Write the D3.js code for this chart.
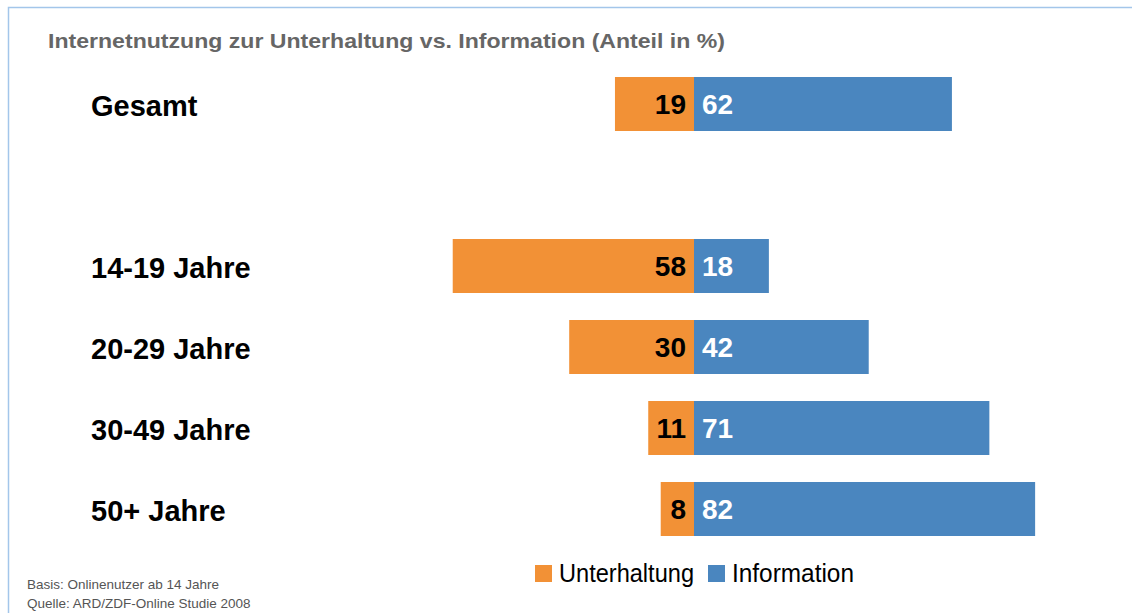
<!DOCTYPE html>
<html>
<head>
<meta charset="utf-8">
<script src="https://cdn.jsdelivr.net/npm/d3@7"></script>
<style>
  body { margin: 0; background: #fff; }
  svg { display: block; font-family: "Liberation Sans", Arial, sans-serif; }
</style>
</head>
<body>
<div id="chart"></div>
<script>
// data
var categories = ["Gesamt", "14-19 Jahre", "20-29 Jahre", "30-49 Jahre", "50+ Jahre"];
var unterhaltung = [19, 58, 30, 11, 8];
var information = [62, 18, 42, 71, 82];
var seriesNames = ["Unterhaltung", "Information"];
var footnotes = ["Basis: Onlinenutzer ab 14 Jahre", "Quelle: ARD/ZDF-Online Studie 2008"];

var W = 1132, H = 613;
var colors = {Unterhaltung: "#f29136", Information: "#4a86bf"};

var svg = d3.select("#chart").append("svg")
    .attr("width", W)
    .attr("height", H);

// frame lines (top + left only are visible)
svg.append("path")
    .attr("d", "M8.5," + H + "V7.5H" + W)
    .attr("fill", "none")
    .attr("stroke", "#a3c6ea")
    .attr("stroke-width", 1.5);

svg.append("text")
    .attr("x", 48)
    .attr("y", 48)
    .attr("fill", "#666")
    .attr("textLength", 677)
    .attr("lengthAdjust", "spacingAndGlyphs")
    .style("font-size", "21px")
    .style("font-weight", "bold")
    .text("Internetnutzung zur Unterhaltung vs. Information (Anteil in %)");

// band scale with an empty slot between Gesamt and the age groups
var slots = [categories[0], "_gap"].concat(categories.slice(1));
var y = d3.scaleBand()
    .domain(slots)
    .range([63.5, 549.5])
    .paddingInner(1 / 3)
    .paddingOuter(1 / 6);

var x = d3.scaleLinear()
    .domain([-100, 100])
    .range([278, 1110]);

var rows = categories.map(function(c, i) {
    return {cat: c, u: unterhaltung[i], inf: information[i]};
});

var g = svg.append("g");

// Unterhaltung goes left of zero
g.selectAll(".bar-u")
    .data(rows)
    .join("rect")
    .attr("class", "bar-u")
    .attr("x", d => x(-d.u))
    .attr("y", d => y(d.cat))
    .attr("width", d => x(0) - x(-d.u))
    .attr("height", y.bandwidth())
    .attr("fill", colors.Unterhaltung);

g.selectAll(".bar-i")
    .data(rows)
    .join("rect")
    .attr("class", "bar-i")
    .attr("x", x(0))
    .attr("y", d => y(d.cat))
    .attr("width", d => x(d.inf) - x(0))
    .attr("height", y.bandwidth())
    .attr("fill", colors.Information);

// value labels
g.selectAll(".lab-u")
    .data(rows)
    .join("text")
    .attr("class", "lab-u")
    .attr("x", x(0) - 8)
    .attr("y", d => y(d.cat) + y.bandwidth() / 2)
    .attr("dy", "0.35em")
    .attr("text-anchor", "end")
    .style("font-size", "28px")
    .style("font-weight", "bold")
    .attr("fill", "#000")
    .text(d => d.u);

g.selectAll(".lab-i")
    .data(rows)
    .join("text")
    .attr("class", "lab-i")
    .attr("x", x(0) + 8)
    .attr("y", d => y(d.cat) + y.bandwidth() / 2)
    .attr("dy", "0.35em")
    .style("font-size", "28px")
    .style("font-weight", "bold")
    .attr("fill", "#fff")
    .text(d => d.inf);

// category labels
g.selectAll(".cat")
    .data(rows)
    .join("text")
    .attr("class", "cat")
    .attr("x", 91)
    .attr("y", d => y(d.cat) + y.bandwidth() / 2)
    .attr("dy", "0.42em")
    .style("font-size", "29px")
    .style("font-weight", "bold")
    .attr("fill", "#000")
    .text(d => d.cat);

// legend
var legendX = [535, 708];
var legendW = [135, 122];
var legend = svg.append("g").selectAll("g")
    .data(seriesNames)
    .join("g")
    .attr("transform", (d, i) => "translate(" + legendX[i] + ",565)");
legend.append("rect")
    .attr("width", 17)
    .attr("height", 17)
    .attr("fill", d => colors[d]);
legend.append("text")
    .attr("x", 24)
    .attr("y", 17)
    .attr("textLength", (d, i) => legendW[i])
    .attr("lengthAdjust", "spacingAndGlyphs")
    .style("font-size", "25px")
    .attr("fill", "#000")
    .text(d => d);

// footnotes
svg.append("g").selectAll("text")
    .data(footnotes)
    .join("text")
    .attr("x", 27)
    .attr("y", (d, i) => 589 + i * 19)
    .style("font-size", "13.5px")
    .attr("fill", "#555")
    .text(d => d);
</script>
</body>
</html>
